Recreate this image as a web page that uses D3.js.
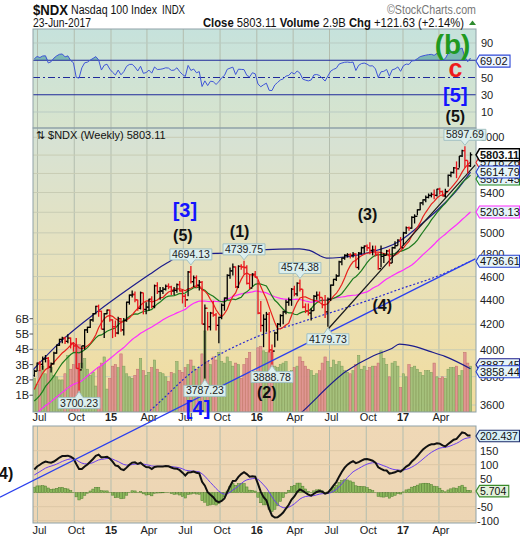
<!DOCTYPE html>
<html>
<head>
<meta charset="utf-8">
<title>$NDX weekly</title>
<script src="https://cdnjs.cloudflare.com/ajax/libs/d3/7.8.5/d3.min.js"></script>
<style>
  body { margin: 0; background: #fff; }
  svg { font-family: "Liberation Sans", Arial, sans-serif; display: block; }
</style>
</head>
<body>
<svg id="chart" width="520" height="540"></svg>
<script>
// weekly bars, first bar = week of 23-Jun-2014, last = week of 19-Jun-2017
var firstWeek = "2014-06-23";

var closes = [
  3840, 3900, 3890, 3930, 3935, 3870, 3895, 3975, 4035, 4080,
  4090, 4065, 4090, 4050, 4030, 3860, 3850, 4030, 4155, 4175,
  4235, 4285, 4345, 4305, 4160, 4285, 4315, 4235, 4180, 4130,
  4245, 4155, 4230, 4380, 4440, 4445, 4400, 4330, 4460, 4320,
  4340, 4405, 4345, 4520, 4470, 4475, 4490, 4515, 4510, 4475,
  4480, 4530, 4475, 4430, 4400, 4640, 4555, 4590, 4525, 4550,
  4200, 4330, 4180, 4290, 4275, 4190, 4255, 4355, 4415, 4610,
  4650, 4685, 4510, 4690, 4685, 4680, 4540, 4500, 4620, 4595,
  4290, 4190, 4240, 4280, 4000, 3990, 4130, 4200, 4270, 4300,
  4380, 4400, 4490, 4450, 4540, 4490, 4340, 4310, 4290, 4310,
  4430, 4440, 4420, 4360, 4300, 4405, 4525, 4575, 4605, 4730,
  4765, 4790, 4795, 4790, 4800, 4680, 4810, 4860, 4875, 4860,
  4835, 4840, 4800, 4670, 4780, 4790, 4830, 4720, 4860, 4880,
  4930, 4860, 5000, 5050, 5045, 5150, 5160, 5225, 5295, 5325,
  5350, 5370, 5380, 5370, 5435, 5410, 5365, 5410, 5580, 5610,
  5660, 5650, 5790, 5850, 5741, 5681.48, 5803.11
];
var highs = [
  3850, 3905, 3915, 3950, 3960, 3945, 3905, 3985, 4040, 4085,
  4100, 4100, 4120, 4095, 4060, 4090, 3900, 4030, 4160, 4180,
  4240, 4290, 4350, 4360, 4310, 4290, 4320, 4320, 4240, 4230,
  4260, 4250, 4250, 4385, 4445, 4480, 4470, 4400, 4470, 4460,
  4380, 4410, 4430, 4530, 4550, 4510, 4510, 4530, 4540, 4520,
  4510, 4540, 4560, 4490, 4450, 4650, 4694.13, 4610, 4610, 4570,
  4560, 4360, 4300, 4300, 4390, 4290, 4260, 4370, 4420, 4620,
  4680, 4715, 4690, 4700, 4710, 4739.75, 4700, 4620, 4630, 4650,
  4570, 4390, 4280, 4300, 4300, 4040, 4140, 4210, 4280, 4310,
  4400, 4420, 4500, 4520, 4550, 4574.38, 4490, 4370, 4370, 4330,
  4440, 4470, 4470, 4420, 4440, 4420, 4530, 4580, 4620, 4740,
  4770, 4800, 4810, 4810, 4820, 4810, 4820, 4870, 4880, 4890,
  4910, 4880, 4880, 4810, 4880, 4810, 4840, 4850, 4870, 4920,
  4940, 4960, 5010, 5060, 5060, 5160, 5180, 5230, 5300, 5330,
  5370, 5390, 5400, 5430, 5440, 5450, 5420, 5440, 5590, 5620,
  5670, 5730, 5790, 5860, 5897.69, 5740, 5830
];
var lows = [
  3800, 3840, 3840, 3850, 3905, 3860, 3830, 3890, 3970, 4030,
  4050, 4045, 4050, 4010, 3985, 3860, 3700.23, 3860, 4000, 4130,
  4170, 4220, 4280, 4260, 4160, 4090, 4280, 4220, 4090, 4100,
  4120, 4140, 4110, 4220, 4360, 4420, 4380, 4310, 4320, 4280,
  4280, 4310, 4330, 4330, 4450, 4400, 4450, 4480, 4490, 4440,
  4440, 4460, 4470, 4370, 4340, 4430, 4540, 4510, 4500, 4480,
  4200, 3787.23, 4150, 4150, 4260, 4150, 4050, 4240, 4310, 4400,
  4580, 4610, 4500, 4500, 4660, 4620, 4530, 4490, 4510, 4590,
  4280, 4140, 4020, 4140, 3980, 3888.78, 4020, 4070, 4180, 4200,
  4280, 4350, 4350, 4430, 4430, 4470, 4330, 4290, 4270, 4230,
  4310, 4400, 4400, 4330, 4250, 4179.73, 4390, 4520, 4560, 4600,
  4700, 4750, 4770, 4760, 4770, 4680, 4660, 4800, 4810, 4830,
  4800, 4790, 4780, 4660, 4680, 4720, 4790, 4690, 4720, 4850,
  4880, 4850, 4880, 4990, 5020, 5040, 5090, 5170, 5220, 5270,
  5300, 5340, 5350, 5330, 5360, 5380, 5360, 5350, 5460, 5560,
  5600, 5550, 5660, 5780, 5660, 5600, 5670
];
// billions of shares
var volumes = [
  2.1, 1.7, 2.6, 2.9, 2.4, 3.3, 2.8, 2.3, 2.2, 2.0,
  2.0, 2.4, 3.6, 2.7, 3.0, 4.3, 4.3, 3.1, 3.4, 2.7,
  2.3, 2.5, 1.6, 2.8, 3.1, 3.5, 1.4, 2.1, 2.9, 3.0,
  2.8, 3.7, 2.9, 2.4, 2.2, 2.1, 2.3, 2.7, 3.4, 2.6,
  2.3, 2.5, 2.8, 3.3, 2.7, 2.5, 2.4, 2.2, 1.9, 2.5,
  2.4, 3.2, 2.6, 2.5, 2.8, 3.0, 3.3, 2.9, 2.7, 2.8,
  3.7, 5.2, 3.2, 3.0, 3.5, 3.3, 3.8, 3.2, 3.1, 3.5,
  3.2, 2.9, 3.1, 3.0, 2.1, 3.0, 3.4, 3.8, 2.4, 2.0,
  4.1, 4.2, 3.9, 3.8, 3.9, 3.8, 2.9, 2.8, 3.0, 3.1,
  3.2, 2.5, 2.6, 2.8, 2.9, 3.5, 3.2, 2.9, 2.7, 2.6,
  2.3, 2.4, 2.6, 3.1, 3.5, 3.2, 2.8, 3.3, 3.0, 3.2,
  2.9, 2.6, 2.5, 2.4, 2.6, 3.0, 3.6, 2.7, 2.9, 2.6,
  2.8, 2.9, 2.9, 3.1, 3.9, 3.4, 3.0, 2.2, 3.1, 3.2,
  2.9, 1.5, 2.4, 2.2, 3.0, 2.8, 2.9, 2.7, 2.5, 2.3,
  2.6, 2.6, 2.5, 3.1, 2.2, 2.1, 2.2, 2.1, 2.7, 2.8,
  2.8, 2.9, 2.3, 2.6, 3.8, 3.1, 2.9
];

// closes of the 39 weeks before the first bar (Sep-2013 .. Jun-2014), only to start the averages
var warmupCloses = [
  3230, 3220, 3210, 3300, 3340, 3330, 3340, 3390, 3410, 3460,
  3460, 3420, 3500, 3570, 3540, 3570, 3580, 3490, 3500, 3540,
  3640, 3660, 3700, 3710, 3620, 3630, 3560, 3510, 3420, 3520,
  3530, 3580, 3550, 3590, 3640, 3720, 3760, 3750, 3810
];

// bollinger bands
var bbUpper = [
  ["2014-06-20", 3850], ["2014-09-03", 4080], ["2014-11-27", 4300], ["2015-02-17", 4500],
  ["2015-04-08", 4620], ["2015-05-21", 4720], ["2015-07-05", 4800], ["2015-08-11", 4805],
  ["2015-11-19", 4815], ["2016-01-08", 4840], ["2016-04-17", 4850], ["2016-05-12", 4835],
  ["2016-06-24", 4765], ["2016-07-26", 4770], ["2016-10-02", 4810], ["2016-12-23", 4920],
  ["2017-02-15", 5080], ["2017-04-02", 5240], ["2017-05-15", 5420], ["2017-06-19", 5614.79]
];
var bbMiddle = [
  ["2014-12-04", 3400], ["2015-03-18", 3520], ["2015-07-30", 3849], ["2015-12-27", 4094],
  ["2016-04-17", 4213], ["2016-10-10", 4400], ["2016-12-23", 4490], ["2017-04-02", 4610],
  ["2017-06-19", 4736.61]
];
var bbLower = [
  ["2016-01-20", 3350], ["2016-04-14", 3530], ["2016-08-10", 3835], ["2016-10-19", 3955],
  ["2016-12-04", 4010], ["2016-12-23", 4043], ["2017-01-24", 4030], ["2017-03-07", 3990],
  ["2017-04-16", 3950], ["2017-06-19", 3858.44]
];
var blueTrend = [["2014-03-29", 3019], ["2017-07-01", 4758]];
var blackTrend = [["2016-06-27", 4160], ["2017-07-01", 5692]];

// 5200, 5600 and 5800 sit under the value tags, so they are left out
var priceTicks = [3600, 3800, 4000, 4200, 4400, 4600, 4800, 5000, 5400, 6000];
var priceGrid = d3.range(3600, 6001, 200);
var volTicks = [1, 2, 3, 4, 5, 6];
var rsiTicks = [10, 30, 50, 90];
var macdTicks = [-100, -50, 50, 100, 150];

// [week index, which end of the bar]
var callouts = [[16, "low"], [56, "high"], [61, "low"], [75, "high"], [85, "low"], [95, "high"], [105, "low"], [154, "high"]];

// [text, date, price, colour, size]
var waveLabels = [
  ["[3]", "2015-07-05", 5156, "#1414ff", 20],
  ["(5)", "2015-06-30", 4924, "#111", 16],
  ["(1)", "2015-11-19", 4963, "#111", 16],
  ["(3)", "2016-10-04", 5126, "#111", 16],
  ["(4)", "2016-11-10", 4308, "#111", 16],
  ["(2)", "2016-01-26", 3649, "#111", 16],
  ["[4]", "2015-08-07", 3531, "#1414ff", 20],
  ["(4)", "2014-04-07", 3126, "#111", 16]
];
// [text, date, rsi value, colour, size]
var rsiWaveLabels = [
  ["(b)", "2017-05-05", 77.2, "#1f9a1f", 28],
  ["c", "2017-05-12", 50.6, "#ee1c1c", 25],
  ["[5]", "2017-05-12", 21.6, "#1414ff", 20],
  ["(5)", "2017-05-12", -1.6, "#111", 16]
];

// right hand value tags, in drawing order [text, value, border colour]
var priceTags = [
  ["5587.45", 5587.45, "#1f8a1f"],
  ["5718.26", 5718.26, "#e8201c"],
  ["5614.79", 5614.79, "#2440d0"],
  ["5803.11", 5803.11, "#000"],
  ["5203.13", 5203.13, "#ff2cff"],
  ["4736.61", 4736.61, "#2440d0"],
  ["3887.45", 3887.45, "#1c1c8c"],
  ["3858.44", 3858.44, "#2440d0"]
];

var svg = d3.select("#chart");
var parse = d3.utcParse("%Y-%m-%d");
var L = 33, R = 476;
var rsiTop = 29, rsiBot = 128, mainTop = 128, mainBot = 412, macdTop = 426, macdBot = 523;

var x = d3.scaleUtc().domain([parse("2015-01-01"), parse("2017-01-01")]).range([111, 403]);
var y = d3.scaleLog().domain([3600, 6000]).range([405, 137.3]);
var yVol = d3.scaleLinear().domain([0, 6]).range([410.5, 318.7]);
var yRsi = d3.scaleLinear().domain([10, 90]).range([112, 43]);
var yMacd = d3.scaleLinear().domain([-100, 150]).range([520.7, 450.7]);

var weeks = closes.map(function(d, i) { return d3.utcMonday.offset(parse(firstWeek), i); });
var bars = closes.map(function(c, i) {
  var prev = i > 0 ? closes[i - 1] : warmupCloses[warmupCloses.length - 1];
  return {date: weeks[i], o: prev, h: highs[i], l: lows[i], c: c, v: volumes[i], up: c >= prev};
});

// indicators
var all = warmupCloses.concat(closes), nw = warmupCloses.length;
function sma(n) {
  return all.map(function(d, i) { return i < n - 1 ? null : d3.mean(all.slice(i - n + 1, i + 1)); }).slice(nw);
}
function ema(arr, n) {
  var k = 2 / (n + 1), p;
  return arr.map(function(d, i) { p = i == 0 ? d : p + k * (d - p); return p; });
}
function rsi(arr, n) {
  var out = [null], ag = 0, al = 0;
  for (var i = 1; i < arr.length; i++) {
    var ch = arr[i] - arr[i - 1], g = Math.max(ch, 0), l = Math.max(-ch, 0);
    if (i <= n) {
      ag += g / n; al += l / n;
      out.push(i == n ? 100 - 100 / (1 + ag / al) : null);
    } else {
      ag = (ag * (n - 1) + g) / n; al = (al * (n - 1) + l) / n;
      out.push(100 - 100 / (1 + ag / al));
    }
  }
  return out;
}
var maShort = sma(8), maMid = sma(15), maLong = sma(40);
var e12 = ema(all, 12), e26 = ema(all, 26);
var macdAll = e12.map(function(d, i) { return d - e26[i]; });
var sigAll = ema(macdAll, 9);
var macd = macdAll.slice(nw), signal = sigAll.slice(nw);
var rsiVals = rsi(all, 14).slice(nw);

// ---- defs ----
var defs = svg.append("defs");
function grad(id, stops) {
  var g = defs.append("linearGradient").attr("id", id)
    .attr("x1", 0).attr("y1", 0).attr("x2", 0).attr("y2", 1);
  stops.forEach(function(s) { g.append("stop").attr("offset", s[0]).attr("stop-color", s[1]); });
}
grad("gRsi", [[0, "#c6e2dc"], [1, "#d8e4cd"]]);
grad("gMain", [[0, "#d5e2d6"], [0.45, "#e7e2be"], [1, "#f2dc9c"]]);
grad("gMacd", [[0, "#efd8b6"], [1, "#ecd5b4"]]);
function clip(id, y0, y1) {
  defs.append("clipPath").attr("id", id).append("rect")
    .attr("x", L).attr("y", y0).attr("width", R - L).attr("height", y1 - y0);
}
clip("cRsi", rsiTop, rsiBot);
clip("cMain", mainTop, mainBot);
clip("cMacd", macdTop, macdBot);

// ---- panels ----
function panelBg(y0, y1, fill) {
  svg.append("rect").attr("x", L).attr("y", y0).attr("width", R - L).attr("height", y1 - y0)
    .attr("fill", "url(#" + fill + ")");
}
panelBg(rsiTop, rsiBot, "gRsi");
panelBg(mainTop, mainBot, "gMain");
panelBg(macdTop, macdBot, "gMacd");

var gRsi = svg.append("g").attr("clip-path", "url(#cRsi)");
var gMain = svg.append("g").attr("clip-path", "url(#cMain)");
var gMacd = svg.append("g").attr("clip-path", "url(#cMacd)");

// grid
var quarters = d3.utcMonth.every(3).range(parse("2014-07-01"), parse("2017-07-01"));
[[gRsi, rsiTop, rsiBot], [gMain, mainTop, mainBot], [gMacd, macdTop, macdBot]].forEach(function(p) {
  p[0].selectAll(".vgrid").data(quarters).enter().append("line")
    .attr("x1", function(d) { return x(d); }).attr("x2", function(d) { return x(d); })
    .attr("y1", p[1]).attr("y2", p[2])
    .attr("stroke", "#b3bdae").attr("stroke-width", 1);
});
gMain.selectAll(".hgrid").data(priceGrid).enter().append("line")
  .attr("x1", L).attr("x2", R)
  .attr("y1", function(d) { return y(d); }).attr("y2", function(d) { return y(d); })
  .attr("stroke", "#c8ccb4").attr("stroke-width", 1);
gRsi.selectAll(".hgrid").data([10, 90]).enter().append("line")
  .attr("x1", L).attr("x2", R)
  .attr("y1", function(d) { return yRsi(d); }).attr("y2", function(d) { return yRsi(d); })
  .attr("stroke", "#b9cbc3");
gMacd.selectAll(".hgrid").data([-100, -50, 0, 50, 100, 150]).enter().append("line")
  .attr("x1", L).attr("x2", R)
  .attr("y1", function(d) { return yMacd(d); }).attr("y2", function(d) { return yMacd(d); })
  .attr("stroke", "#dcc7a6");

// ---- RSI ----
var rsiPts = weeks.map(function(w, i) { return [w, rsiVals[i]]; });
gRsi.append("path").datum(rsiPts)
  .attr("d", d3.area().x(function(d) { return x(d[0]); })
    .y0(yRsi(70)).y1(function(d) { return yRsi(Math.max(d[1], 70)); }))
  .attr("fill", "#6fb0ae").attr("opacity", 0.85);
[70, 30].forEach(function(v) {
  gRsi.append("line").attr("x1", L).attr("x2", R).attr("y1", yRsi(v)).attr("y2", yRsi(v))
    .attr("stroke", "#1f2a9a").attr("stroke-width", 1);
});
gRsi.append("line").attr("x1", L).attr("x2", R).attr("y1", yRsi(50)).attr("y2", yRsi(50))
  .attr("stroke", "#1f2a9a").attr("stroke-dasharray", "7,3,2,3");
gRsi.append("path").datum(rsiPts)
  .attr("d", d3.line().x(function(d) { return x(d[0]); }).y(function(d) { return yRsi(d[1]); }))
  .attr("fill", "none").attr("stroke", "#3f55d8").attr("stroke-width", 1);

// ---- main panel: volume ----
gMain.selectAll(".vol").data(bars).enter().append("rect")
  .attr("x", function(d) { return x(d.date) - 1.2; })
  .attr("width", 2.4)
  .attr("y", function(d) { return yVol(d.v); })
  .attr("height", function(d) { return mainBot - yVol(d.v); })
  .attr("fill", function(d) { return d.up ? "#a6c17c" : "#e09792"; })
  .attr("stroke", function(d) { return d.up ? "#7d9c58" : "#c06d69"; })
  .attr("stroke-width", 0.5);

// bands, averages, trend lines
function dated(arr) { return arr.map(function(d) { return [parse(d[0]), d[1]]; }); }
var priceLine = d3.line().defined(function(d) { return d[1] != null; })
  .x(function(d) { return x(d[0]); }).y(function(d) { return y(d[1]); });
var smoothLine = d3.line().curve(d3.curveMonotoneX)
  .x(function(d) { return x(d[0]); }).y(function(d) { return y(d[1]); });

gMain.append("path").datum(dated(bbUpper)).attr("d", smoothLine)
  .attr("fill", "none").attr("stroke", "#1c1c8c").attr("stroke-width", 1.2);
gMain.append("path").datum(dated(bbLower)).attr("d", smoothLine)
  .attr("fill", "none").attr("stroke", "#1c1c8c").attr("stroke-width", 1.2);
gMain.append("path").datum(dated(bbMiddle)).attr("d", smoothLine)
  .attr("fill", "none").attr("stroke", "#2a2ad0").attr("stroke-width", 1.2).attr("stroke-dasharray", "2,2");

[[maLong, "#ff2cff"], [maMid, "#1c7a1c"], [maShort, "#e8201c"]].forEach(function(m) {
  gMain.append("path").datum(weeks.map(function(w, i) { return [w, m[0][i]]; }))
    .attr("d", priceLine).attr("fill", "none").attr("stroke", m[1]).attr("stroke-width", 1.2);
});
gMain.append("path").datum(dated(blackTrend)).attr("d", priceLine)
  .attr("fill", "none").attr("stroke", "#1a1a1a").attr("stroke-width", 1.2);

// price bars
var gBar = gMain.selectAll(".bar").data(bars).enter().append("g")
  .attr("stroke", function(d) { return d.up ? "#000" : "#e8141c"; })
  .attr("stroke-width", 1.3);
gBar.append("line")
  .attr("x1", function(d) { return x(d.date); }).attr("x2", function(d) { return x(d.date); })
  .attr("y1", function(d) { return y(d.h); }).attr("y2", function(d) { return y(d.l); });
gBar.append("line")
  .attr("x1", function(d) { return x(d.date) - 1.8; }).attr("x2", function(d) { return x(d.date); })
  .attr("y1", function(d) { return y(d.o); }).attr("y2", function(d) { return y(d.o); });
gBar.append("line")
  .attr("x1", function(d) { return x(d.date); }).attr("x2", function(d) { return x(d.date) + 1.8; })
  .attr("y1", function(d) { return y(d.c); }).attr("y2", function(d) { return y(d.c); });

gMain.append("text").attr("x", 36).attr("y", 139).attr("font-size", 11).attr("fill", "#111")
  .text("\u21c5 $NDX (Weekly) 5803.11");

// ---- MACD ----
gMacd.selectAll(".hist").data(bars).enter().append("rect")
  .attr("x", function(d) { return x(d.date) - 1.2; })
  .attr("width", 2.4)
  .attr("y", function(d, i) { return Math.min(yMacd(macd[i] - signal[i]), yMacd(0)); })
  .attr("height", function(d, i) { return Math.abs(yMacd(macd[i] - signal[i]) - yMacd(0)); })
  .attr("fill", "#8cb85c").attr("stroke", "#4f7f2e").attr("stroke-width", 0.5);
var macdLine = d3.line().x(function(d) { return x(d[0]); }).y(function(d) { return yMacd(d[1]); });
gMacd.append("path").datum(weeks.map(function(w, i) { return [w, signal[i]]; })).attr("d", macdLine)
  .attr("fill", "none").attr("stroke", "#6a3df0").attr("stroke-width", 1);
gMacd.append("path").datum(weeks.map(function(w, i) { return [w, macd[i]]; })).attr("d", macdLine)
  .attr("fill", "none").attr("stroke", "#111").attr("stroke-width", 2);

// panel borders
[[rsiTop, rsiBot], [mainTop, mainBot], [macdTop, macdBot]].forEach(function(p) {
  svg.append("rect").attr("x", L).attr("y", p[0]).attr("width", R - L).attr("height", p[1] - p[0])
    .attr("fill", "none").attr("stroke", "#8fa2a8").attr("stroke-width", 1);
});

// ---- axes text ----
var fmtMonth = d3.utcFormat("%b"), fmtYear = d3.utcFormat("%y");
[421, 534].forEach(function(ty) {
  svg.selectAll(null).data(quarters).enter().append("text")
    .attr("x", function(d) { return x(d) + (d.getUTCMonth() == 0 ? 0 : 2); })
    .attr("y", ty)
    .attr("text-anchor", "middle")
    .attr("font-size", 11)
    .attr("font-weight", function(d) { return d.getUTCMonth() == 0 ? "bold" : "normal"; })
    .attr("fill", "#222")
    .text(function(d) { return d.getUTCMonth() == 0 ? fmtYear(d) : fmtMonth(d); });
});
svg.selectAll(null).data(priceTicks).enter().append("text")
  .attr("x", 480).attr("y", function(d) { return y(d) + 4; })
  .attr("font-size", 11).attr("fill", "#222").text(function(d) { return d; });
svg.selectAll(null).data(rsiTicks).enter().append("text")
  .attr("x", 481).attr("y", function(d) { return yRsi(d) + 4; })
  .attr("font-size", 11).attr("fill", "#222").text(function(d) { return d; });
svg.selectAll(null).data(macdTicks).enter().append("text")
  .attr("x", function(d) { return d < 0 ? 477 : 480; }).attr("y", function(d) { return yMacd(d) + 4; })
  .attr("font-size", 11).attr("fill", "#222").text(function(d) { return d; });
svg.selectAll(null).data(volTicks).enter().append("text")
  .attr("x", 29).attr("y", function(d) { return yVol(d) + 4; })
  .attr("text-anchor", "end").attr("font-size", 11).attr("fill", "#222").text(function(d) { return d + "B"; });
svg.selectAll(null).data(volTicks).enter().append("line")
  .attr("x1", 29.5).attr("x2", 33).attr("y1", function(d) { return yVol(d); }).attr("y2", function(d) { return yVol(d); })
  .attr("stroke", "#555");

// ---- the long blue trend line runs over everything ----
svg.append("path").datum(dated(blueTrend)).attr("d", priceLine)
  .attr("fill", "none").attr("stroke", "#2a3fee").attr("stroke-width", 1.3);

// ---- value tags on the right ----
function tag(yy, txt, border, fill, fs, bold) {
  var g = svg.append("g");
  var t = g.append("text").attr("x", 480).attr("y", yy + fs * 0.36).text(txt)
    .attr("font-size", fs).attr("font-weight", bold ? "bold" : "normal").attr("fill", "#111");
  var w = Math.max(t.node().getComputedTextLength() + 3, 28), h = fs + 1;
  g.insert("path", "text")
    .attr("d", "M476," + yy + " L479.5," + (yy - h / 2) + " H" + Math.min(479.5 + w, 519.5) + " V" + (yy + h / 2) + " H479.5 Z")
    .attr("fill", fill).attr("stroke", border).attr("stroke-width", bold ? 1.5 : 1.1);
}
// spread the price tags a little so they do not sit on top of each other
var tagY = {};
priceTags.slice().sort(function(a, b) { return b[1] - a[1]; }).reduce(function(last, d) {
  var yy = Math.max(y(d[1]), last + 7);
  tagY[d[0]] = yy;
  return yy;
}, -100);
priceTags.forEach(function(d) {
  tag(tagY[d[0]], d[0], d[2], d[0] == "5803.11" ? "#ffffff" : "#e6f4f8", 11, d[0] == "5803.11");
});
tag(yRsi(69.02), "69.02", "#3049d8", "#eef5ff", 11, false);
tag(yMacd(202.437), "202.437", "#1a2a6a", "#d6eef6", 10.5, false);
tag(yMacd(5.704), "5.704", "#3a8a2a", "#e3f1da", 10.5, false);

// ---- callouts at the marked highs and lows ----
callouts.forEach(function(c) {
  var i = c[0], isHigh = c[1] == "high", v = isHigh ? highs[i] : lows[i];
  var cx = x(weeks[i]), tip = y(v) + (isHigh ? -1 : 1);
  var g = svg.append("g");
  var t = g.append("text").attr("text-anchor", "middle").attr("x", cx)
    .attr("font-size", 10.5).attr("fill", "#222").text(v.toFixed(2));
  var w = t.node().getComputedTextLength() + 4, h = 11;
  var bx = cx - w / 2, by = isHigh ? tip - 5 - h : tip + 6;
  t.attr("y", by + 9);
  var d = isHigh
    ? "M" + bx + "," + by + " H" + (bx + w) + " V" + (by + h) + " H" + (cx + 4) + " L" + cx + "," + tip + " L" + (cx - 4) + "," + (by + h) + " H" + bx + " Z"
    : "M" + bx + "," + by + " H" + (cx - 4) + " L" + cx + "," + tip + " L" + (cx + 4) + "," + by + " H" + (bx + w) + " V" + (by + h) + " H" + bx + " Z";
  g.insert("path", "text").attr("d", d).attr("fill", "#dcefee").attr("stroke", "#a3c1c2").attr("stroke-width", 1);
});

// ---- wave labels ----
svg.selectAll(null).data(waveLabels).enter().append("text")
  .attr("x", function(d) { return x(parse(d[1])); })
  .attr("y", function(d) { return y(d[2]); })
  .attr("text-anchor", "middle").attr("font-weight", "bold")
  .attr("font-size", function(d) { return d[4]; })
  .attr("fill", function(d) { return d[3]; })
  .text(function(d) { return d[0]; });
svg.selectAll(null).data(rsiWaveLabels).enter().append("text")
  .attr("x", function(d) { return x(parse(d[1])); })
  .attr("y", function(d) { return yRsi(d[2]); })
  .attr("text-anchor", "middle").attr("font-weight", "bold")
  .attr("font-size", function(d) { return d[4]; })
  .attr("fill", function(d) { return d[3]; })
  .text(function(d) { return d[0]; });

// ---- header ----
svg.append("text").attr("x", 33).attr("y", 15).attr("font-size", 15).attr("font-weight", "bold")
  .attr("textLength", 35).attr("lengthAdjust", "spacingAndGlyphs").attr("fill", "#111").text("$NDX");
svg.append("text").attr("x", 71).attr("y", 14).attr("font-size", 12)
  .attr("textLength", 86).attr("lengthAdjust", "spacingAndGlyphs").attr("fill", "#111").text("Nasdaq 100 Index");
svg.append("text").attr("x", 162).attr("y", 14).attr("font-size", 12)
  .attr("textLength", 23).attr("lengthAdjust", "spacingAndGlyphs").attr("fill", "#111").text("INDX");
svg.append("text").attr("x", 387).attr("y", 14).attr("font-size", 13)
  .attr("textLength", 89).attr("lengthAdjust", "spacingAndGlyphs").attr("fill", "#777").text("\u00a9StockCharts.com");
svg.append("text").attr("x", 33).attr("y", 27).attr("font-size", 12)
  .attr("textLength", 58).attr("lengthAdjust", "spacingAndGlyphs").attr("fill", "#111").text("23-Jun-2017");
var info = svg.append("text").attr("x", 203).attr("y", 27).attr("font-size", 12).attr("fill", "#111")
  .attr("textLength", 261).attr("lengthAdjust", "spacingAndGlyphs");
info.append("tspan").attr("font-weight", "bold").text("Close ");
info.append("tspan").text("5803.11  ");
info.append("tspan").attr("font-weight", "bold").text("Volume ");
info.append("tspan").text("2.9B  ");
info.append("tspan").attr("font-weight", "bold").text("Chg ");
info.append("tspan").text("+121.63 (+2.14%)");
svg.append("path").attr("d", "M469,25 L472.5,20.5 L476,25 Z").attr("fill", "#2e8b2e");
</script>
</body>
</html>
